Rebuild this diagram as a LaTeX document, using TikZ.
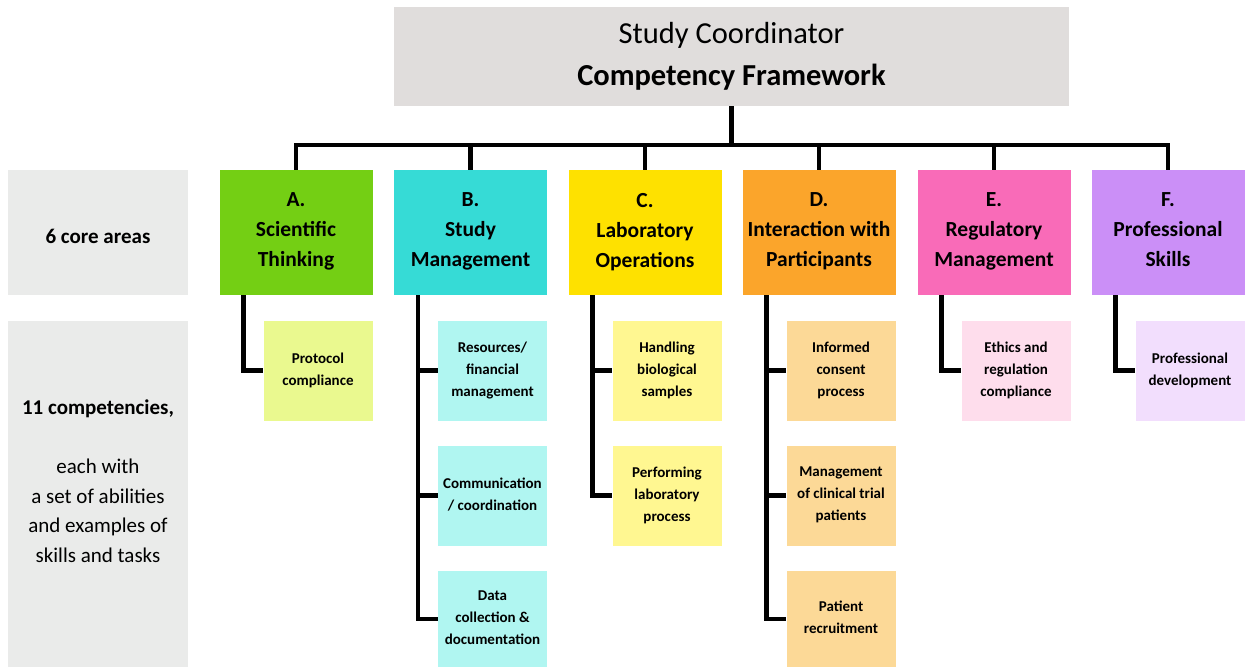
\documentclass[tikz,border=0pt]{standalone}
\usepackage{fontspec}
\setmainfont{Carlito}

\definecolor{titlegray}{HTML}{E0DDDC}
\definecolor{sidegray}{HTML}{EAEBEA}
\definecolor{areaA}{HTML}{74CF14}
\definecolor{compA}{HTML}{EAF98F}
\definecolor{areaB}{HTML}{36DBD6}
\definecolor{compB}{HTML}{B0F6F1}
\definecolor{areaC}{HTML}{FEE100}
\definecolor{compC}{HTML}{FFF791}
\definecolor{areaD}{HTML}{FBA52B}
\definecolor{compD}{HTML}{FCD997}
\definecolor{areaE}{HTML}{F96BB8}
\definecolor{compE}{HTML}{FEDDEC}
\definecolor{areaF}{HTML}{CB8FF7}
\definecolor{compF}{HTML}{F2DEFD}

\begin{document}
\begin{tikzpicture}[x=1pt, y=-1pt,
    area/.style={inner sep=0pt, minimum width=153pt, minimum height=125pt,
        align=center, text depth=5pt, font=\fontsize{21.5}{30}\selectfont\bfseries},
    comp/.style={inner sep=0pt, minimum width=109pt, minimum height=100pt,
        align=center, text depth=3.5pt, font=\fontsize{15}{22}\selectfont\bfseries},
    side/.style={fill=sidegray, inner sep=0pt, minimum width=180pt},
    link/.style={line width=4.5pt}]

    \useasboundingbox (0,0) rectangle (1247,667);

    % header
    \node[fill=titlegray, inner sep=0pt, minimum width=675pt, minimum height=99pt,
        align=center, font=\fontsize{30.5}{42}\selectfont]
        (title) at (731.5,56.5) {Study Coordinator\\\textbf{Competency Framework}};
    \coordinate (bus) at (title.south |- 0,145);

    % left labels
    \node[side, minimum height=125pt, text height=22pt,
        font=\fontsize{21}{30}\selectfont\bfseries]
        (lblareas) at (98,232.5) {6 core areas};
    \node[side, minimum height=346pt] (lblcomp) at (98,494) {};
    \node[align=center, font=\fontsize{21}{29.5}\selectfont]
        (lblcomptext) at (98,481) {\textbf{11 competencies,}\\[29.5pt]
        each with\\a set of abilities\\and examples of\\skills and tasks};

    % core areas
    \node[area, fill=areaA] (A) at (296,232.5) {A.\\Scientific\\Thinking};
    \node[area, fill=areaB] (B) at (470.5,232.5) {B.\\Study\\Management};
    \node[area, fill=areaC] (C) at (645,232.5) {C.\\Laboratory\\Operations};
    \node[area, fill=areaD] (D) at (819,232.5) {D.\\Interaction with\\Participants};
    \node[area, fill=areaE] (E) at (994,232.5) {E.\\Regulatory\\Management};
    \node[area, fill=areaF] (F) at (1168,232.5) {F.\\Professional\\Skills};

    % competencies
    \node[comp, fill=compA] (A1) at (318,370.5) {Protocol\\compliance};
    \node[comp, fill=compB] (B1) at (492.5,370.5) {Resources/\\financial\\management};
    \node[comp, fill=compB] (B2) at (492.5,495.5) {Communication\\/ coordination};
    \node[comp, fill=compB, minimum height=96pt] (B3) at (492.5,619) {Data\\collection \&\\documentation};
    \node[comp, fill=compC] (C1) at (667,370.5) {Handling\\biological\\samples};
    \node[comp, fill=compC] (C2) at (667,495.5) {Performing\\laboratory\\process};
    \node[comp, fill=compD] (D1) at (841,370.5) {Informed\\consent\\process};
    \node[comp, fill=compD] (D2) at (841,495.5) {Management\\of clinical trial\\patients};
    \node[comp, fill=compD, minimum height=96pt] (D3) at (841,619) {Patient\\recruitment};
    \node[comp, fill=compE] (E1) at (1016,370.5) {Ethics and\\regulation\\compliance};
    \node[comp, fill=compF] (F1) at (1190,370.5) {Professional\\development};

    % tree lines
    \draw[link] (title.south) -- (bus);
    \foreach \n in {A,B,C,D,E,F}
    \draw[link] (bus) -| (\n.north);
    \foreach \n/\m in {A/A1,B/B1,B/B2,B/B3,C/C1,C/C2,D/D1,D/D2,D/D3,E/E1,F/F1}
    \draw[link] ([xshift=24pt]\n.south west) |- (\m.west);

\end{tikzpicture}
\end{document}
